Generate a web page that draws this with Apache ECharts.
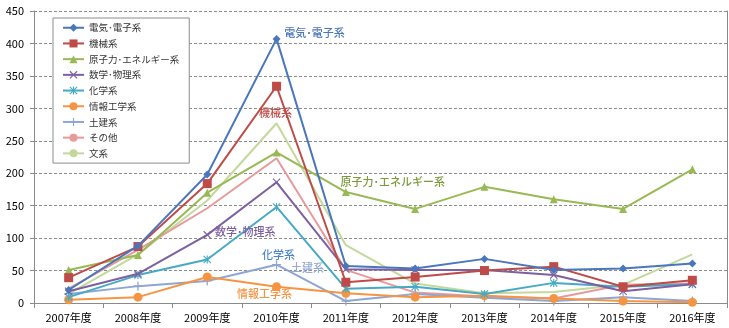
<!DOCTYPE html>
<html><head><meta charset="utf-8">
<script src="https://cdn.jsdelivr.net/npm/echarts@6/dist/echarts.min.js"></script>
<style>html,body{margin:0;padding:0;background:#fff}#c{width:729px;height:328px}</style>
</head><body><div id="c"></div>
<script>
const categories = ['2007年度','2008年度','2009年度','2010年度','2011年度','2012年度','2013年度','2014年度','2015年度','2016年度'];
const yTicks = [0,50,100,150,200,250,300,350,400,450];
const seriesNames = ['電気･電子系','機械系','原子力･エネルギー系','数学･物理系','化学系','情報工学系','土建系','その他','文系'];
const denki   = [20, 88, 198, 407, 57, 53, 68, 51, 53, 61];
const kikai   = [39, 87, 184, 334, 32, 40, 50, 56, 25, 35];
const genshi  = [51, 74, 170, 232, 171, 145, 179, 160, 145, 206];
const suugaku = [18, 45, 105, 186, 52, 51, 51, 43, 18, 29];
const kagaku  = [9, 43, 67, 148, 22, 25, 14, 31, 25, 29];
const jouhou  = [5, 9, 40, 25, 15, 9, 11, 7, 3, 1];
const doken   = [14, 26, 34, 59, 3, 14, 8, 3, 9, 3];
const sonota  = [22, 82, 146, 223, 51, 16, 10, 7, 28, 30];
const bunkei  = [14, 75, 158, 277, 89, 30, 15, 17, 28, 75];
const allData = [denki, kikai, genshi, suugaku, kagaku, jouhou, doken, sonota, bunkei];
// annotation labels: [series index, category index, text]
const annotations = [
  [0, 3, '電気･電子系'],
  [1, 3, '機械系'],
  [2, 4, '原子力･エネルギー系'],
  [7, 3, 'その他'],
  [3, 2, '数学･物理系'],
  [4, 3, '化学系'],
  [6, 3, '土建系'],
  [5, 3, '情報工学系'],
  [8, 9, '文系']
];
</script>
<script>
const colors = ['#4a76bb','#be4b48','#98b954','#7d60a0','#46aac5','#f59543','#8ea6d3','#e8999a','#c4d89c'];
const labelColors = ['#4a76bb','#be4b48','#7a9a3a','#7d60a0','#4a86d0','#f59543','#96aad5','#e8999a','#7a9a3a'];
const labelOffsets = [[38,-6],[-1,27],[47,-10],[-25,34],[38,-3],[2,48],[31,3],[-12,7],[4,-7]];
const XP = 'path://M0,1L1,0L10,9L9,10Z M9,0L10,1L1,10L0,9Z';
const PLUS = 'path://M4.3,0H5.7V10H4.3Z M0,4.3H10V5.7H0Z';
const AST = 'path://M0,1L1,0L10,9L9,10Z M9,0L10,1L1,10L0,9Z M4.3,0H5.7V10H4.3Z';
const symbols = ['diamond','rect','triangle',XP,AST,'circle',PLUS,'none','none'];
const symSizes = [8,9,8,8,8,9,9,0,0];
const font = '"Noto Sans CJK JP", sans-serif';

const series = allData.map((arr, si) => {
  const data = arr.map((v, ci) => {
    const ann = annotations.find(a => a[0] === si && a[1] === ci);
    if (!ann) return v;
    const k = annotations.indexOf(ann);
    return {value: v, label: {show: true, formatter: ann[2], position: 'inside',
      offset: labelOffsets[k], color: labelColors[si], fontSize: 11, fontFamily: font,
      fontWeight: 500, align: 'center', verticalAlign: 'middle'}};
  });
  return {
    name: seriesNames[si], type: 'line', data,
    symbol: symbols[si], symbolSize: symSizes[si], showSymbol: symbols[si] !== 'none',
    lineStyle: {color: colors[si], width: 2},
    itemStyle: {color: colors[si]},
    z: 10 - si,
    emphasis: {disabled: true},
    label: {show: false},
    animation: false
  };
});

const chart = echarts.init(document.getElementById('c'));
chart.setOption({
  animation: false,
  color: colors,
  textStyle: {fontFamily: font},
  grid: {left: 34, right: 2, top: 11, bottom: 25, containLabel: false},
  legend: {
    orient: 'vertical', left: 53, top: 18,
    padding: [5, 10, 5, 9], itemGap: 6.2, itemWidth: 21, itemHeight: 10,
    backgroundColor: '#fff', borderColor: '#8c8c8c', borderWidth: 1,
    textStyle: {fontSize: 9.5, color: '#333', fontFamily: font},
    data: seriesNames
  },
  xAxis: {
    type: 'category', data: categories, boundaryGap: true,
    axisLine: {lineStyle: {color: '#8a8a8a', width: 1}},
    axisTick: {show: true, length: 5, lineStyle: {color: '#8a8a8a'}},
    axisLabel: {color: '#000', fontSize: 11, margin: 9, fontFamily: font}
  },
  yAxis: [{
    type: 'value', min: 0, max: 450, interval: 50,
    axisLine: {show: true, lineStyle: {color: '#8a8a8a'}},
    axisTick: {show: true, length: 4, lineStyle: {color: '#8a8a8a'}},
    axisLabel: {color: '#000', fontSize: 11, margin: 10, fontFamily: font,
      formatter: v => yTicks.includes(v) ? String(v) : ''},
    splitLine: {show: true, lineStyle: {color: '#8c8c8c', type: [3, 2], width: 1}}
  }, {
    type: 'value', min: 0, max: 450, interval: 50, position: 'right',
    axisLine: {show: true, lineStyle: {color: '#8a8a8a'}},
    axisTick: {show: false}, axisLabel: {show: false}, splitLine: {show: false}
  }],
  series
});
</script>
</body></html>
